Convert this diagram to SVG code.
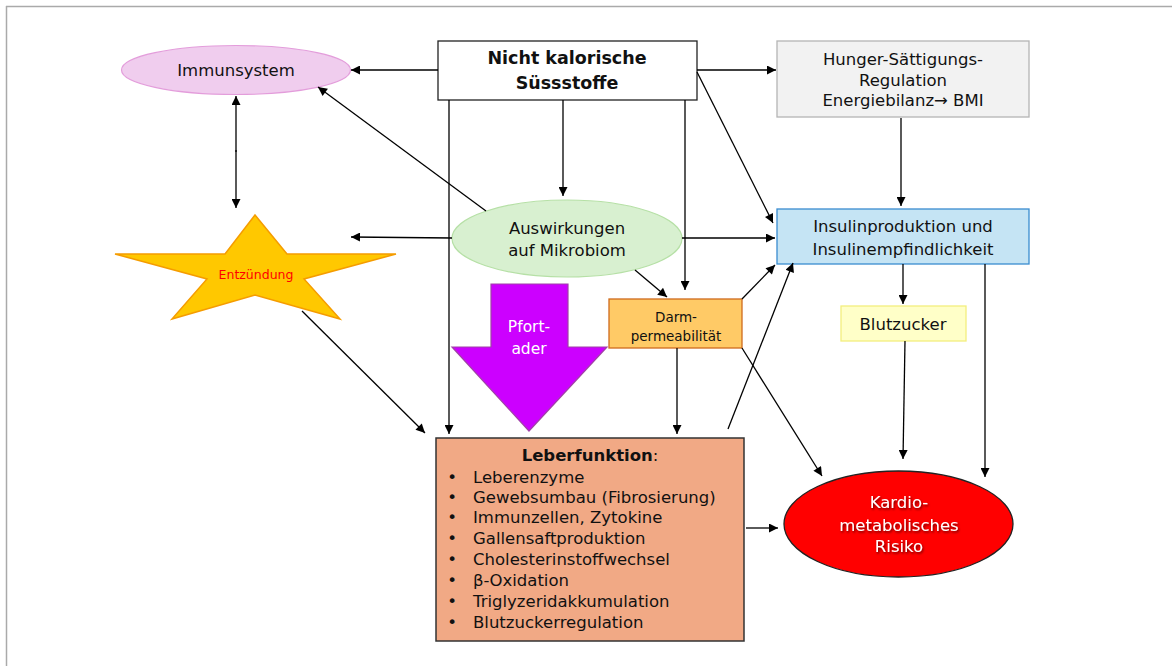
<svg xmlns="http://www.w3.org/2000/svg" width="1172" height="666" viewBox="0 0 1172 666">
<defs>
<marker id="ah" viewBox="0 0 10 10" refX="10" refY="5" markerWidth="11" markerHeight="9" markerUnits="userSpaceOnUse" orient="auto-start-reverse">
<path d="M0,0 L10,5 L0,10 z" fill="#000"/>
</marker>
<filter id="sh" x="-10%" y="-10%" width="120%" height="130%">
<feDropShadow dx="1" dy="1.5" stdDeviation="0.8" flood-color="#000" flood-opacity="0.6"/>
</filter>
</defs>
<style>
text{font-family:"DejaVu Sans","Liberation Sans",sans-serif;font-size:16.5px;fill:#111;text-anchor:middle}
.b{font-weight:bold}
.c line{stroke:#000;stroke-width:1.3;marker-end:url(#ah)}
.l{text-anchor:start}
</style>
<rect width="1172" height="666" fill="#fff"/>
<g id="frame" stroke="#aaa" stroke-width="1.5" fill="none">
<line x1="6" y1="6.5" x2="1172" y2="6.5"/>
<line x1="6.5" y1="6" x2="6.5" y2="666"/>
</g>
<g id="immunsystem">
<ellipse cx="236" cy="70" rx="114.5" ry="24.5" fill="#f0cdee" stroke="#e39ddb" stroke-width="1.2"/>
<text x="236" y="76">Immunsystem</text>
</g>
<g id="suessstoffe">
<rect x="438" y="41" width="259" height="59" fill="#fff" stroke="#222" stroke-width="1.3"/>
<text class="b" x="567" y="64" style="font-size:17.5px">Nicht kalorische</text>
<text class="b" x="567" y="89" style="font-size:17.5px">Süssstoffe</text>
</g>
<g id="hunger">
<rect x="777" y="41" width="252" height="76" fill="#f2f2f2" stroke="#b4b4b4" stroke-width="1.3"/>
<text x="903" y="65">Hunger-Sättigungs-</text>
<text x="903" y="86">Regulation</text>
<text x="903" y="106">Energiebilanz→ BMI</text>
</g>
<g id="insulin">
<rect x="777" y="209" width="252" height="55" fill="#c5e4f4" stroke="#3a8cd0" stroke-width="1.3"/>
<text x="903" y="232">Insulinproduktion und</text>
<text x="903" y="255">Insulinempfindlichkeit</text>
</g>
<g id="mikrobiom">
<ellipse cx="567" cy="238.5" rx="115" ry="38.5" fill="#d8f0d0" stroke="#b6e0a6" stroke-width="1.2"/>
<text x="567" y="234">Auswirkungen</text>
<text x="567" y="256">auf Mikrobiom</text>
</g>
<g id="entzuendung">
<polygon points="255,215 287,254 396,254 304,279 340,319 255,295 172,319 207,279 115,254 225,254" fill="#ffc800" stroke="#f59c00" stroke-width="1.5" stroke-linejoin="miter"/>
<text x="256" y="279" style="font-size:12.5px;fill:#f00">Entzündung</text>
</g>
<g id="pfortader">
<polygon points="491,284 568,284 568,347 607,347 529,431 452,347 491,347" fill="#cc00ff" stroke="#a040a8" stroke-width="1.2"/>
<text x="529" y="332" style="font-size:15.5px;fill:#fff">Pfort-</text>
<text x="529" y="354" style="font-size:15.5px;fill:#fff">ader</text>
</g>
<g id="darm">
<rect x="609" y="299" width="133" height="49" fill="#ffca66" stroke="#cf6a1c" stroke-width="1.3"/>
<text x="676" y="322" style="font-size:13.5px">Darm-</text>
<text x="676" y="341" style="font-size:13.5px">permeabilität</text>
</g>
<g id="blutzucker">
<rect x="841" y="306" width="125" height="35" fill="#ffffc8" stroke="#f3ee7e" stroke-width="1.3"/>
<text x="903" y="330">Blutzucker</text>
</g>
<g id="leber">
<rect x="436" y="438" width="308" height="203" fill="#f1a985" stroke="#333" stroke-width="1.5"/>
<text x="590" y="461"><tspan class="b" style="font-weight:bold">Leberfunktion</tspan>:</text>
<g>
<text x="452" y="483">•</text><text class="l" x="473" y="483">Leberenzyme</text>
<text x="452" y="503">•</text><text class="l" x="473" y="503">Gewebsumbau (Fibrosierung)</text>
<text x="452" y="523">•</text><text class="l" x="473" y="523">Immunzellen, Zytokine</text>
<text x="452" y="544">•</text><text class="l" x="473" y="544">Gallensaftproduktion</text>
<text x="452" y="565">•</text><text class="l" x="473" y="565">Cholesterinstoffwechsel</text>
<text x="452" y="586">•</text><text class="l" x="473" y="586">β-Oxidation</text>
<text x="452" y="607">•</text><text class="l" x="473" y="607">Triglyzeridakkumulation</text>
<text x="452" y="628">•</text><text class="l" x="473" y="628">Blutzuckerregulation</text>
</g>
</g>
<g id="kardio">
<ellipse cx="898.5" cy="524" rx="114.5" ry="53" fill="#ff0000" stroke="#222" stroke-width="1.3"/>
<g filter="url(#sh)">
<text x="899" y="508" style="fill:#fff">Kardio-</text>
<text x="899" y="531" style="fill:#fff">metabolisches</text>
<text x="899" y="552" style="fill:#fff">Risiko</text>
</g>
</g>
<g id="connectors" class="c">
<line x1="438" y1="70" x2="351" y2="70"/>
<line x1="697" y1="70" x2="776" y2="70"/>
<line x1="697" y1="72" x2="773" y2="223"/>
<line x1="563" y1="100" x2="563" y2="196"/>
<line x1="449" y1="100" x2="449" y2="434"/>
<line x1="685" y1="100" x2="685" y2="290"/>
<line x1="486" y1="211" x2="318" y2="87"/>
<line x1="452" y1="238" x2="351" y2="237"/>
<line x1="682" y1="238" x2="775" y2="238"/>
<line x1="635" y1="270" x2="667" y2="297"/>
<line x1="236" y1="152" x2="236" y2="96"/>
<line x1="236" y1="150" x2="236" y2="208"/>
<line x1="901" y1="118" x2="901" y2="206"/>
<line x1="302" y1="311" x2="425" y2="433"/>
<line x1="677" y1="348" x2="677" y2="434"/>
<line x1="742" y1="299" x2="775" y2="265"/>
<line x1="728" y1="429" x2="793" y2="263"/>
<line x1="742" y1="348" x2="822" y2="476"/>
<line x1="746" y1="528" x2="778" y2="528"/>
<line x1="903" y1="264" x2="903" y2="304"/>
<line x1="905" y1="341" x2="903" y2="459"/>
<line x1="985" y1="264" x2="985" y2="477"/>
</g>
</svg>
